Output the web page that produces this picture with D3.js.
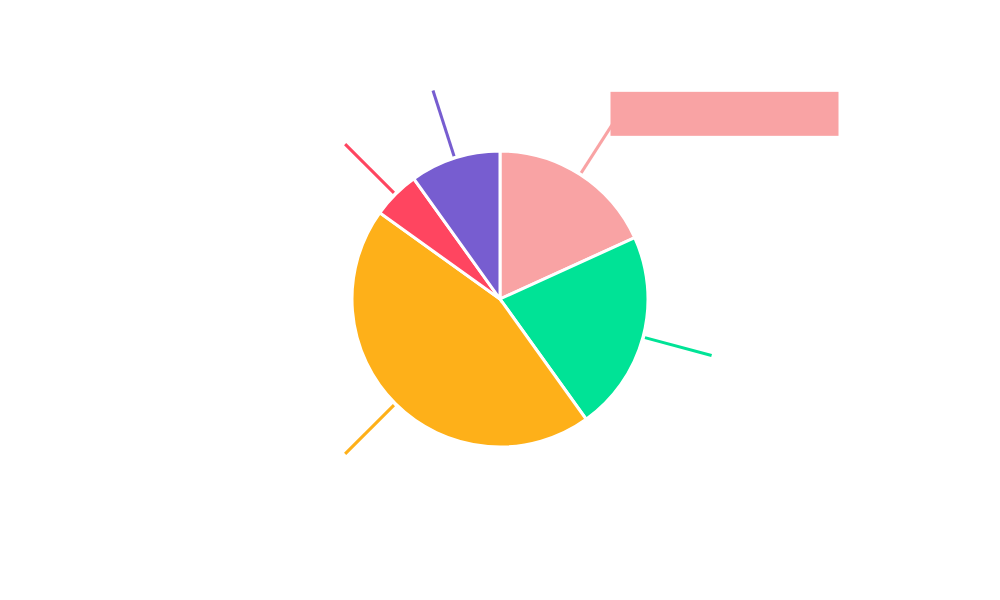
<!doctype html>
<html>
  <head>
    <title>Pie</title>
    <script src="https://d3js.org/d3.v7.min.js"></script>
    <style>
        body {
            margin: 0;
            padding: 0;
            background: #fff;
        }
        html {
            font-family: Roboto, Arial;
        }
    </style>
  </head>
  <body>
        <div id="chart"></div>
        <script>
            // data
            var categories = ["A", "B", "C", "D", "E"];
            var values = [18.2, 21.9, 44.8, 5.2, 9.9];
            var colors = ["#f9a3a4", "#00e396", "#feb019", "#ff4560", "#775dd0"];

            var width = 1000;
            var height = 600;
            var cx = 500, cy = 299;
            var radius = 148;

            var svg = d3.select("#chart")
                .append("svg")
                .attr("width", width)
                .attr("height", height)
                .append("g")
                .attr("transform", "translate(" + cx + "," + cy + ")");

            var pie = d3.pie().sort(null).value((d) => d);
            var arcs = pie(values);

            var arc = d3.arc()
                .innerRadius(0)
                .outerRadius(radius);

            // leader lines
            var lineInner = d3.arc().innerRadius(150).outerRadius(150);
            var lineOuter = d3.arc().innerRadius(219).outerRadius(219);

            svg.selectAll("line.leader")
                .data(arcs)
                .enter()
                .append("line")
                .attr("class", "leader")
                .attr("x1", (d) => lineInner.centroid(d)[0])
                .attr("y1", (d) => lineInner.centroid(d)[1])
                .attr("x2", (d) => lineOuter.centroid(d)[0])
                .attr("y2", (d) => lineOuter.centroid(d)[1])
                .attr("stroke", (d, i) => colors[i])
                .attr("stroke-width", 3);

            svg.selectAll("path")
                .data(arcs)
                .enter()
                .append("path")
                .attr("d", arc)
                .attr("fill", (d, i) => colors[i])
                .attr("stroke", "#fff")
                .attr("stroke-width", 3);

            // highlighted label box on the first slice
            var p = lineOuter.centroid(arcs[0]);
            var box = svg.append("g")
                .attr("transform", "translate(" + (p[0] - 8) + "," + (p[1] - 23) + ")");
            box.append("rect")
                .attr("width", 228)
                .attr("height", 44)
                .attr("fill", colors[0]);
            box.append("text")
                .attr("x", 114)
                .attr("y", 28)
                .attr("text-anchor", "middle")
                .attr("font-size", 14)
                .attr("fill", colors[0])
                .text(categories[0]);
        </script>
    </body>
</html>
